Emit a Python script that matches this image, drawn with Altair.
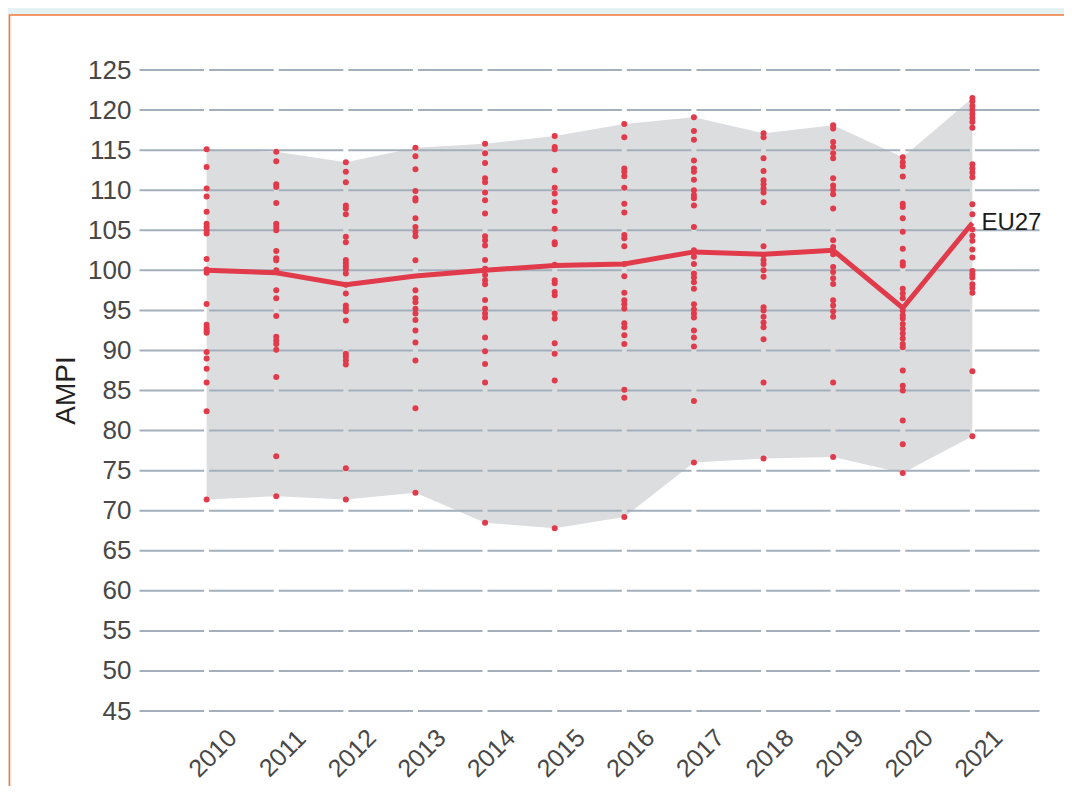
import altair as alt
import pandas as pd

# ---------------- data ----------------
years = list(range(2010, 2022))
eu27 = [100.0, 99.7, 98.2, 99.3, 100.0, 100.6, 100.8, 102.3, 102.0, 102.5, 95.3, 105.9]
series_name = "EU27"

dots_2010 = [115.1, 112.9, 110.2, 109.2, 107.3, 105.8, 105.4, 105.0, 104.6, 101.4, 100.1, 99.7,
             95.8, 93.2, 92.8, 92.5, 92.2, 89.8, 89.0, 87.7, 86.0, 82.4, 71.4]
dots_2011 = [114.8, 113.6, 110.75, 110.4, 108.4, 105.8, 105.4, 105.0, 102.4, 101.5, 101.25, 100.0,
             97.5, 96.5, 94.3, 91.7, 91.25, 90.8, 90.1, 86.7, 76.8, 71.8]
dots_2012 = [113.5, 112.3, 111.0, 108.1, 107.7, 107.0, 104.2, 103.5, 101.3, 100.9, 100.5, 100.1,
             99.6, 98.2, 97.1, 95.6, 95.2, 94.9, 93.75, 89.6, 89.2, 88.75, 88.25, 75.3, 71.4]
dots_2013 = [115.3, 114.25, 112.6, 109.9, 109.0, 108.7, 106.5, 105.4, 104.8, 104.25, 101.25,
             97.5, 96.5, 96.0, 95.2, 94.6, 93.8, 92.5, 91.0, 88.75, 82.8, 72.25]
dots_2014 = [115.8, 114.6, 113.4, 111.5, 111.0, 109.7, 108.75, 107.1, 104.25, 103.75, 103.1, 101.3,
             100.2, 99.4, 98.75, 98.25, 96.3, 95.2, 94.6, 94.1, 91.6, 89.9, 88.3, 86.0, 68.5]
dots_2015 = [116.75, 115.4, 115.1, 112.5, 110.3, 109.6, 108.5, 107.4, 105.2, 103.5, 103.25, 100.7,
             98.75, 98.4, 97.3, 96.9, 94.6, 94.0, 90.9, 89.6, 86.25, 67.8]
dots_2016 = [118.25, 116.6, 112.7, 112.3, 111.75, 110.3, 108.3, 107.2, 104.4, 104.0, 103.0, 100.8,
             99.25, 97.2, 96.25, 95.75, 95.2, 93.4, 92.9, 91.9, 90.8, 85.1, 84.1, 69.2]
dots_2017 = [119.1, 117.4, 116.3, 113.7, 112.7, 112.3, 111.3, 110.0, 109.4, 109.0, 108.1, 105.4,
             102.5, 101.7, 100.8, 99.6, 99.1, 98.5, 97.7, 95.75, 95.1, 94.6, 94.1, 92.5, 91.6,
             90.5, 83.7, 76.0]
dots_2018 = [117.1, 116.6, 114.0, 112.4, 111.25, 110.75, 110.2, 109.7, 108.5, 103.0, 101.9, 101.3,
             100.8, 100.0, 99.2, 95.4, 95.0, 94.2, 93.5, 92.9, 91.4, 86.0, 76.5]
dots_2019 = [118.1, 117.7, 116.0, 115.4, 114.6, 114.0, 111.5, 110.6, 110.1, 109.5, 107.7, 103.75,
             102.9, 102.0, 100.4, 99.8, 99.0, 98.3, 96.25, 95.6, 94.9, 94.2, 86.0, 76.7]
dots_2020 = [114.1, 113.5, 113.0, 111.7, 108.3, 107.9, 106.5, 104.8, 102.7, 101.0, 100.6, 97.7,
             97.1, 96.5, 95.0, 94.4, 94.0, 93.3, 92.7, 92.1, 91.5, 90.8, 90.4, 87.5, 85.6, 85.0,
             81.25, 78.3, 74.7]
dots_2021 = [121.5, 121.1, 120.5, 120.0, 119.5, 119.0, 118.5, 117.8, 113.25, 112.75, 112.2, 111.6,
             108.25, 107.0, 105.1, 104.3, 103.7, 102.6, 101.6, 99.9, 99.5, 99.1, 98.25, 97.8,
             97.2, 87.4, 79.3]

y_ticks = list(range(45, 130, 5))

# ---------------- tables ----------------
all_dots = [dots_2010, dots_2011, dots_2012, dots_2013, dots_2014, dots_2015,
            dots_2016, dots_2017, dots_2018, dots_2019, dots_2020, dots_2021]
dots_df = pd.DataFrame(
    [{"year": y, "v": v} for y, vals in zip(years, all_dots) for v in vals]
)
line_df = pd.DataFrame({"year": years, "v": eu27})
grid_df = pd.DataFrame({"v": y_ticks})

# ---------------- style ----------------
W, H = 905, 641
RED = "#e13a4b"
FONT = "Liberation Sans"

x_scale = alt.Scale(domain=[2009, 2022], nice=False, zero=False)
y_scale = alt.Scale(domain=[45, 125], nice=False, zero=False)

x_axis = alt.Axis(
    values=years, format="d", title=None, grid=False, domain=False, ticks=False,
    labelAngle=315, labelAlign="center", labelBaseline="middle",
    labelPadding=42, labelOffset=6, labelFontSize=25, labelColor="#474747",
    labelFont=FONT, zindex=1,
)
y_axis = alt.Axis(
    values=y_ticks, title="AMPI", grid=False, domain=False, ticks=False,
    labelPadding=6, labelFontSize=26, labelColor="#474747", labelFont=FONT,
    titleFontSize=28, titleFontWeight="normal", titleColor="#222222", titleFont=FONT,
    titleX=-71, titleY=320, titleBaseline="middle", titleAlign="center", titleAngle=270,
    zindex=1,
)

x_enc = alt.X("year:Q", scale=x_scale, axis=x_axis)
y_enc = alt.Y("v:Q", scale=y_scale, axis=y_axis)

# panel (white box with orange frame)
panel = alt.Chart(alt.Data(values=[{"k": 0}])).mark_rect(
    fill="white", stroke="#f27a3a", strokeWidth=1.6
).encode(
    x=alt.value(-127.5), x2=alt.value(W + 60),
    y=alt.value(-55), y2=alt.value(H + 120),
)

band = alt.Chart(dots_df).transform_aggregate(
    lo="min(v)", hi="max(v)", groupby=["year"]
).mark_area(color="#dcdddf", opacity=1).encode(
    x=x_enc, y=alt.Y("lo:Q", scale=y_scale, axis=y_axis), y2="hi:Q"
)

step = W / 13.0
grid = alt.Chart(grid_df).mark_rule(
    color="#a3b0bb", strokeWidth=2,
    strokeDash=[step - 5, 5], strokeDashOffset=step - 2.5,
).encode(
    y=alt.Y("v:Q", scale=y_scale, axis=y_axis),
    x=alt.value(0), x2=alt.value(W),
)

points = alt.Chart(dots_df).mark_circle(color=RED, size=36, opacity=1).encode(
    x=x_enc, y=y_enc
)

line = alt.Chart(line_df).mark_line(color=RED, strokeWidth=5).encode(
    x=x_enc, y=y_enc
)

label = alt.Chart(line_df).transform_filter(
    alt.datum.year == years[-1]
).mark_text(
    text=series_name, align="left", baseline="middle", dx=9, fontSize=24,
    color="#1a1a1a", font=FONT
).encode(x=x_enc, y=y_enc)

chart = alt.layer(panel, band, grid, points, line, label).properties(
    width=W, height=H,
    autosize=alt.AutoSizeParams(type="none"),
    padding={"left": 129, "top": 62, "right": 22, "bottom": 75},
    background="#e4f2f1",
).configure_view(stroke=None).configure(font=FONT)

chart.save("out.html", embed_options={"renderer": "svg", "actions": False})
